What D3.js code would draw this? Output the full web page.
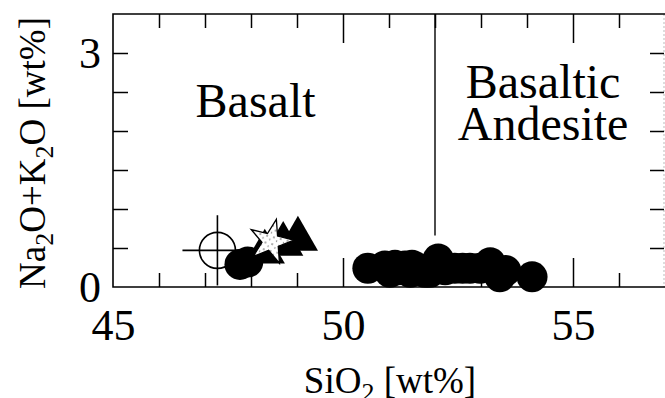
<!DOCTYPE html>
<html>
<head>
<meta charset="utf-8">
<script src="https://cdn.jsdelivr.net/npm/d3@7"></script>
<style>
  body { margin: 0; background: #fff; }
  svg { display: block; font-family: "Liberation Serif", "DejaVu Serif", serif; }
</style>
</head>
<body>
<div id="main"></div>
<script>
const W = 665;
const H = 398;

// SiO2 / Na2O+K2O, wt%
var openPoint = [{si: 47.27, alk: 0.47, siErr: 0.76, alkErr: 0.45}];

var filledCircles = [
    [47.76, 0.29], [47.93, 0.32],
    [50.54, 0.24], [50.91, 0.27], [51.02, 0.19], [51.13, 0.28], [51.20, 0.22],
    [51.35, 0.27], [51.46, 0.19], [51.50, 0.28], [51.63, 0.24], [51.78, 0.19],
    [51.89, 0.19], [52.07, 0.36], [52.22, 0.22], [52.43, 0.24], [52.60, 0.24],
    [52.76, 0.24], [52.98, 0.24], [53.20, 0.31], [53.41, 0.13],
    [53.54, 0.21], [54.11, 0.13]
];

var triangles = [[48.30, 0.45], [48.70, 0.55], [49.02, 0.615]];

var stars = [[48.43, 0.58]];

var xMajor = [45, 50, 55];
var xMinor = [46, 47, 48, 49, 51, 52, 53, 54, 56];
var yLabels = [0, 3];
var yTicks = [0.5, 1, 1.5, 2, 2.5, 3];

var fieldBoundary = {si: 52, from: 0.66, to: 3.5};

var fieldNames = [
    {lines: ["Basalt"], si: 48.1, alk: 2.18},
    {lines: ["Basaltic", "Andesite"], si: 54.35, alk: 2.42}
];

var x = d3.scaleLinear().domain([45, 57]).range([113, 665]);
var y = d3.scaleLinear().domain([0, 3.5]).range([287, 14]);

var svg = d3.select("#main").append("svg")
    .attr("width", W)
    .attr("height", H);

// stipple fill for the star
var pat = svg.append("defs").append("pattern")
    .attr("id", "stipple")
    .attr("patternUnits", "userSpaceOnUse")
    .attr("width", 7).attr("height", 7);
pat.append("rect").attr("width", 7).attr("height", 7).attr("fill", "#fff");
pat.append("circle").attr("cx", 2).attr("cy", 2).attr("r", 0.8).attr("fill", "#444");
pat.append("circle").attr("cx", 5.5).attr("cy", 5).attr("r", 0.7).attr("fill", "#666");

// frame
svg.append("line")
    .attr("x1", x(57) - 1).attr("x2", x(57) - 1)
    .attr("y1", y(3.5)).attr("y2", y(0))
    .attr("stroke", "#bbb").attr("stroke-width", 1).attr("stroke-dasharray", "2,2");
svg.append("path")
    .attr("d", "M" + x(57) + "," + y(3.5) + "H" + x(45) + "V" + y(0) + "H" + x(57))
    .attr("fill", "none").attr("stroke", "#000").attr("stroke-width", 1.6);

var tickStyle = function(g){
    g.select(".domain").remove();
    g.selectAll(".tick line").attr("stroke", "#000").attr("stroke-width", 1.5);
};

svg.append("g").attr("transform", "translate(0," + y(0) + ")")
    .call(d3.axisBottom(x).tickValues(xMinor).tickSize(-14).tickFormat(""))
    .call(tickStyle);
svg.append("g").attr("transform", "translate(0," + y(0) + ")")
    .call(d3.axisBottom(x).tickValues([50, 55]).tickSize(-29).tickFormat(""))
    .call(tickStyle);
svg.append("g").attr("transform", "translate(0," + y(0) + ")")
    .call(d3.axisBottom(x).tickValues(xMajor).tickSize(0).tickPadding(22).tickFormat(d3.format("d")))
    .call(tickStyle)
    .call(g => g.selectAll("text").attr("font-size", 44).attr("fill", "#000")
        .attr("font-family", "Liberation Serif"));

svg.append("g").attr("transform", "translate(0," + y(3.5) + ")")
    .call(d3.axisTop(x).tickValues(xMinor).tickSize(-14).tickFormat(""))
    .call(tickStyle);
svg.append("g").attr("transform", "translate(0," + y(3.5) + ")")
    .call(d3.axisTop(x).tickValues([50, 55]).tickSize(-29).tickFormat(""))
    .call(tickStyle);

svg.append("g").attr("transform", "translate(" + x(45) + ",0)")
    .call(d3.axisLeft(y).tickValues(yTicks).tickSize(-15).tickFormat(""))
    .call(tickStyle);
svg.append("g").attr("transform", "translate(" + x(45) + ",0)")
    .call(d3.axisLeft(y).tickValues(yLabels).tickSize(0).tickPadding(12).tickFormat(d3.format("d")))
    .call(tickStyle)
    .call(g => g.selectAll("text").attr("font-size", 44).attr("fill", "#000")
        .attr("font-family", "Liberation Serif"));
svg.append("g").attr("transform", "translate(" + (x(57) - 1) + ",0)")
    .call(d3.axisRight(y).tickValues(yTicks).tickSize(-14).tickFormat(""))
    .call(tickStyle);

// Basalt / Basaltic andesite boundary
svg.append("line")
    .attr("x1", x(fieldBoundary.si)).attr("x2", x(fieldBoundary.si))
    .attr("y1", y(fieldBoundary.from)).attr("y2", y(fieldBoundary.to))
    .attr("stroke", "#000").attr("stroke-width", 1.4);

// field names
fieldNames.forEach(function(f){
    var t = svg.append("text")
        .attr("x", x(f.si)).attr("y", y(f.alk))
        .attr("text-anchor", "middle")
        .attr("font-size", 48)
        .attr("fill", "#000");
    f.lines.forEach(function(l, i){
        t.append("tspan").attr("x", x(f.si)).attr("dy", i === 0 ? 0 : 42).text(l);
    });
});

// data
var op = svg.append("g");
op.selectAll("g").data(openPoint).enter().append("g").each(function(d){
    var g = d3.select(this);
    g.append("line")
        .attr("x1", x(d.si - d.siErr)).attr("x2", x(d.si + d.siErr))
        .attr("y1", y(d.alk)).attr("y2", y(d.alk))
        .attr("stroke", "#000").attr("stroke-width", 1.6);
    g.append("line")
        .attr("x1", x(d.si)).attr("x2", x(d.si))
        .attr("y1", y(d.alk - d.alkErr)).attr("y2", y(d.alk + d.alkErr))
        .attr("stroke", "#000").attr("stroke-width", 1.6);
    g.append("circle")
        .attr("cx", x(d.si)).attr("cy", y(d.alk)).attr("r", 18)
        .attr("fill", "none").attr("stroke", "#000").attr("stroke-width", 1.6);
});

svg.append("g").selectAll("circle")
    .data(filledCircles).enter().append("circle")
    .attr("cx", d => x(d[0])).attr("cy", d => y(d[1]))
    .attr("r", 15.5).attr("fill", "#000");

svg.append("g").selectAll("path")
    .data(triangles).enter().append("path")
    .attr("d", d3.symbol(d3.symbolTriangle).size(700))
    .attr("transform", d => "translate(" + x(d[0]) + "," + y(d[1]) + ")")
    .attr("fill", "#000");

svg.append("g").selectAll("path")
    .data(stars).enter().append("path")
    .attr("d", d3.symbol(d3.symbolStar).size(600))
    .attr("transform", d => "translate(" + x(d[0]) + "," + y(d[1]) + ") rotate(14)")
    .attr("fill", "url(#stipple)").attr("stroke", "#000").attr("stroke-width", 1.3);

// axis titles
var xt = svg.append("text")
    .attr("x", 390).attr("y", 393)
    .attr("text-anchor", "middle")
    .attr("font-size", 37).attr("fill", "#000");
xt.append("tspan").text("SiO");
xt.append("tspan").attr("font-size", 26).attr("dy", 8).text("2");
xt.append("tspan").attr("dy", -8).text(" [wt%]");

var yt = svg.append("text")
    .attr("transform", "translate(45,153) rotate(-90)")
    .attr("text-anchor", "middle")
    .attr("font-size", 37).attr("fill", "#000");
yt.append("tspan").text("Na");
yt.append("tspan").attr("font-size", 26).attr("dy", 8).text("2");
yt.append("tspan").attr("dy", -8).text("O+K");
yt.append("tspan").attr("font-size", 26).attr("dy", 8).text("2");
yt.append("tspan").attr("dy", -8).text("O [wt%]");
</script>
</body>
</html>
